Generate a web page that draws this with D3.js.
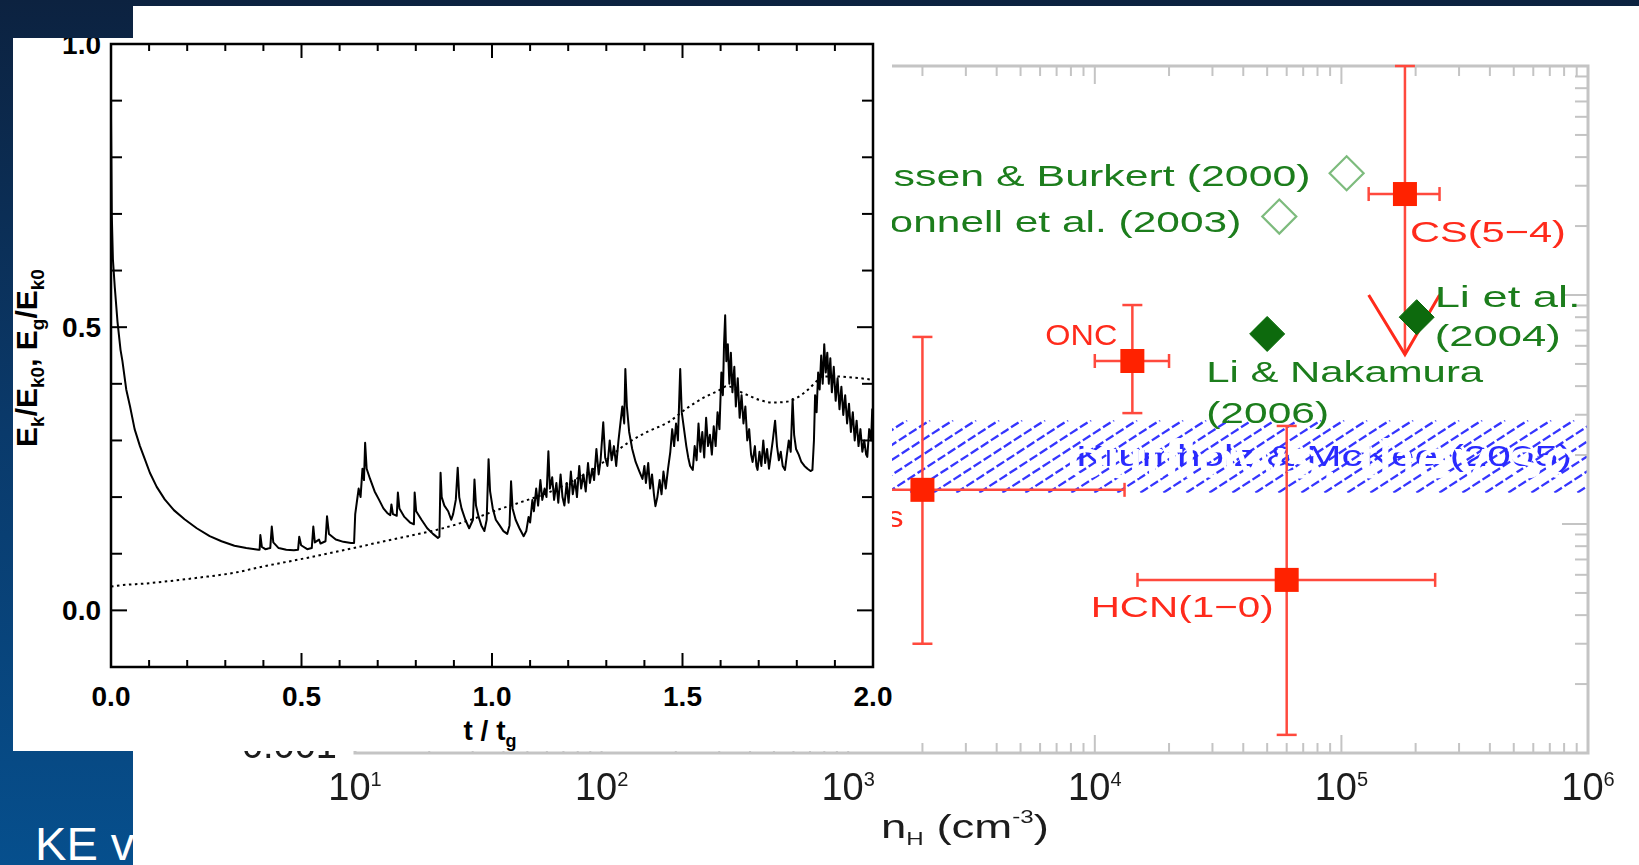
<!DOCTYPE html>
<html>
<head>
<meta charset="utf-8">
<script src="https://cdn.jsdelivr.net/npm/d3@7"></script>
<style>
  html, body { margin: 0; padding: 0; background: #fff; overflow: hidden; }
  text { font-family: "Liberation Sans", Arial, Helvetica, sans-serif; }
</style>
</head>
<body>
<svg id="slide" width="1639" height="865"></svg>
<script>
// ---------- Left panel: energy evolution (t / t_g) ----------
// Kinetic energy E_k / E_k0 : [t/t_g, value]
const kineticEnergy = [
  [0.000,0.870],[0.002,0.700],[0.005,0.620],[0.010,0.570],[0.017,0.510],[0.025,0.460],[0.030,0.440],
  [0.040,0.390],[0.050,0.360],[0.062,0.320],[0.076,0.290],[0.090,0.265],[0.102,0.243],[0.120,0.218],
  [0.141,0.196],[0.165,0.177],[0.193,0.161],[0.225,0.145],[0.259,0.131],[0.290,0.122],[0.324,0.114],
  [0.355,0.110],[0.387,0.107],[0.390,0.107],[0.392,0.133],[0.396,0.112],[0.405,0.108],[0.418,0.110],
  [0.422,0.148],[0.426,0.120],[0.440,0.110],[0.460,0.107],[0.480,0.106],[0.491,0.107],[0.494,0.130],
  [0.499,0.115],[0.515,0.108],[0.527,0.110],[0.531,0.148],[0.535,0.120],[0.546,0.125],[0.550,0.118],
  [0.563,0.122],[0.567,0.166],[0.572,0.135],[0.590,0.125],[0.610,0.121],[0.630,0.119],[0.638,0.119],
  [0.641,0.170],[0.645,0.190],[0.650,0.215],[0.655,0.200],[0.660,0.250],[0.664,0.230],[0.667,0.296],
  [0.671,0.250],[0.680,0.232],[0.692,0.210],[0.703,0.196],[0.715,0.180],[0.725,0.172],[0.733,0.168],
  [0.736,0.187],[0.740,0.170],[0.750,0.167],[0.753,0.208],[0.757,0.180],[0.770,0.165],[0.785,0.155],
  [0.795,0.152],[0.797,0.208],[0.801,0.175],[0.815,0.160],[0.830,0.145],[0.845,0.135],[0.858,0.128],
  [0.862,0.130],[0.865,0.243],[0.868,0.200],[0.875,0.185],[0.885,0.175],[0.893,0.160],[0.898,0.170],
  [0.905,0.195],[0.910,0.252],[0.914,0.200],[0.920,0.180],[0.930,0.160],[0.940,0.145],[0.950,0.160],
  [0.954,0.231],[0.958,0.185],[0.965,0.165],[0.972,0.150],[0.980,0.140],[0.986,0.160],[0.991,0.267],
  [0.995,0.210],[1.002,0.180],[1.010,0.160],[1.020,0.150],[1.030,0.140],[1.040,0.135],[1.046,0.150],
  [1.050,0.228],[1.054,0.180],[1.062,0.160],[1.072,0.145],[1.083,0.131],[1.090,0.140],[1.096,0.165],
  [1.100,0.155],[1.106,0.195],[1.110,0.175],[1.116,0.215],[1.121,0.185],[1.127,0.230],[1.132,0.195],
  [1.138,0.215],[1.143,0.200],[1.148,0.281],[1.152,0.215],[1.158,0.235],[1.163,0.195],[1.169,0.225],
  [1.174,0.190],[1.180,0.240],[1.185,0.200],[1.190,0.185],[1.196,0.225],[1.201,0.190],[1.207,0.245],
  [1.212,0.205],[1.218,0.230],[1.223,0.200],[1.229,0.255],[1.234,0.215],[1.240,0.240],[1.246,0.210],
  [1.252,0.260],[1.257,0.225],[1.263,0.250],[1.268,0.230],[1.274,0.285],[1.280,0.240],[1.285,0.265],
  [1.292,0.332],[1.297,0.270],[1.303,0.255],[1.309,0.300],[1.314,0.265],[1.320,0.290],[1.326,0.255],
  [1.332,0.300],[1.337,0.330],[1.342,0.360],[1.347,0.330],[1.350,0.426],[1.354,0.360],[1.360,0.315],
  [1.368,0.285],[1.377,0.262],[1.387,0.245],[1.395,0.232],[1.400,0.255],[1.404,0.225],[1.410,0.260],
  [1.415,0.215],[1.420,0.240],[1.425,0.205],[1.429,0.184],[1.434,0.200],[1.440,0.230],[1.445,0.205],
  [1.450,0.245],[1.456,0.215],[1.462,0.250],[1.468,0.280],[1.473,0.320],[1.478,0.290],[1.483,0.330],
  [1.488,0.300],[1.494,0.426],[1.498,0.350],[1.504,0.320],[1.510,0.290],[1.515,0.270],[1.520,0.255],
  [1.527,0.248],[1.532,0.290],[1.537,0.265],[1.542,0.330],[1.547,0.280],[1.552,0.315],[1.557,0.270],
  [1.562,0.340],[1.567,0.290],[1.572,0.310],[1.577,0.275],[1.582,0.325],[1.587,0.290],[1.592,0.350],
  [1.597,0.320],[1.602,0.420],[1.606,0.380],[1.609,0.470],[1.612,0.521],[1.615,0.440],[1.619,0.470],
  [1.623,0.400],[1.627,0.455],[1.631,0.385],[1.636,0.430],[1.640,0.360],[1.645,0.410],[1.650,0.340],
  [1.655,0.380],[1.660,0.330],[1.665,0.360],[1.670,0.300],[1.675,0.320],[1.680,0.275],[1.684,0.262],
  [1.690,0.290],[1.694,0.255],[1.697,0.248],[1.702,0.280],[1.707,0.255],[1.712,0.300],[1.717,0.260],
  [1.722,0.285],[1.727,0.250],[1.732,0.275],[1.737,0.300],[1.743,0.335],[1.748,0.290],[1.753,0.265],
  [1.758,0.280],[1.763,0.255],[1.769,0.248],[1.774,0.275],[1.779,0.300],[1.784,0.280],[1.789,0.373],
  [1.793,0.310],[1.798,0.285],[1.805,0.275],[1.812,0.262],[1.820,0.255],[1.828,0.250],[1.836,0.246],
  [1.841,0.248],[1.845,0.300],[1.848,0.380],[1.852,0.350],[1.856,0.420],[1.860,0.390],[1.864,0.450],
  [1.868,0.400],[1.872,0.470],[1.876,0.420],[1.880,0.455],[1.884,0.400],[1.888,0.445],[1.892,0.385],
  [1.897,0.430],[1.902,0.370],[1.907,0.410],[1.912,0.355],[1.917,0.395],[1.922,0.345],[1.927,0.380],
  [1.932,0.330],[1.937,0.365],[1.942,0.315],[1.947,0.350],[1.952,0.300],[1.957,0.335],[1.962,0.290],
  [1.967,0.320],[1.972,0.280],[1.977,0.300],[1.982,0.275],[1.985,0.271],[1.990,0.320],[1.995,0.300],
  [1.998,0.355],[2.000,0.340]
];

// Gravitational energy E_g / E_k0 : [t/t_g, value]
const gravEnergy = [
  [0.000,0.042],[0.010,0.043],[0.100,0.048],[0.233,0.058],[0.320,0.066],[0.403,0.078],[0.480,0.088],
  [0.559,0.099],[0.630,0.109],[0.703,0.120],[0.780,0.131],[0.860,0.143],[0.940,0.159],[1.017,0.178],
  [1.080,0.192],[1.148,0.208],[1.210,0.228],[1.279,0.255],[1.357,0.296],[1.410,0.316],[1.462,0.332],
  [1.514,0.358],[1.560,0.377],[1.592,0.387],[1.618,0.396],[1.645,0.388],[1.671,0.380],[1.700,0.372],
  [1.736,0.367],[1.770,0.368],[1.802,0.376],[1.830,0.390],[1.854,0.406],[1.867,0.413],[1.900,0.413],
  [1.932,0.412],[1.965,0.410],[2.000,0.407]
];

const leftXTicks = ["0.0", "0.5", "1.0", "1.5", "2.0"];
const leftYTicks = ["0.0", "0.5", "1.0"];

// ---------- Right panel: efficiency per free-fall time vs density ----------
const obsLabels   = ["GMCs", "ONC", "CS(5\u22124)", "HCN(1\u22120)"];
const obsDensity  = [2000, 1.42e4, 1.81e5, 6.0e4];
const obsDensLo   = [310, 1.0e4, 1.29e5, 1.49e4];
const obsDensHi   = [1.32e4, 2.0e4, 2.5e5, 2.4e5];
const obsEff      = [0.0141, 0.0515, 0.276, 0.0057];
const obsEffLo    = [0.0030, 0.0305, 0.055, 0.0012];
const obsEffHi    = [0.0656, 0.0904, 1.0, 0.0268];
const obsUpperLim = [false, false, true, false];
const arrowHeadBase = 0.1;   // where the upper-limit arrow head opens

const theoryLabels = [["Klessen & Burkert (2000)"], ["Bonnell et al. (2003)"], ["Li & Nakamura", "(2006)"], ["Li et al.", "(2004)"]];
const theoryDensity = [1.05e5, 5.6e4, 5.0e4, 2.02e5];
const theoryEff     = [0.34, 0.22, 0.0676, 0.080];
const theoryFilled  = [false, false, true, true];

const kmBand = [0.0137, 0.0284];         // Krumholz & McKee (2005) range
const kmLabel = "Krumholz & McKee (2005)";

const xDecades = [1, 2, 3, 4, 5, 6];
const yTickValues = [0.001, 0.01, 0.1, 1];
const yTickLabels = ["0.001", "0.010", "0.100", "1.000"];

// ---------- Layout ----------
const svg = d3.select("#slide");
const defs = svg.append("defs");

const grad = defs.append("linearGradient").attr("id", "bgGrad")
  .attr("x1", 0).attr("y1", 0).attr("x2", 0).attr("y2", 1);
grad.append("stop").attr("offset", "0%").attr("stop-color", "#0c2240");
grad.append("stop").attr("offset", "50%").attr("stop-color", "#0a3a6b");
grad.append("stop").attr("offset", "100%").attr("stop-color", "#064f8d");

defs.append("filter").attr("id", "soft")
  .append("feGaussianBlur").attr("stdDeviation", 0.55);

// slide background and title
svg.append("rect").attr("width", 1639).attr("height", 865).attr("fill", "url(#bgGrad)");
svg.append("text").attr("x", 35).attr("y", 860).attr("fill", "#fff")
  .attr("font-size", 46).attr("textLength", 136).attr("lengthAdjust", "spacingAndGlyphs").text("KE vs.");
svg.append("rect").attr("x", 133).attr("y", 6).attr("width", 1506).attr("height", 859).attr("fill", "#fff");

// ---------- Right chart ----------
const xR = d3.scaleLog().domain([10, 1e6]).range([355, 1588]);
const yR = d3.scaleLog().domain([1e-3, 1]).range([753, 66]);
const rc = svg.append("g").attr("filter", "url(#soft)");

// hatched theory band
const bandTop = yR(kmBand[1]), bandBot = yR(kmBand[0]);
defs.append("clipPath").attr("id", "bandClip").append("rect")
  .attr("x", xR.range()[0]).attr("y", bandTop)
  .attr("width", xR.range()[1] - xR.range()[0]).attr("height", bandBot - bandTop);
const slant = (bandBot - bandTop) / Math.tan(33 * Math.PI / 180);
rc.append("g").attr("clip-path", "url(#bandClip)")
  .selectAll("line").data(d3.range(xR.range()[0] - slant, xR.range()[1] + 10, 23)).join("line")
  .attr("x1", d => d).attr("y1", bandBot).attr("x2", d => d + slant).attr("y2", bandTop)
  .attr("stroke", "#3434ff").attr("stroke-width", 2.3).attr("stroke-dasharray", "9 3");
rc.append("text").attr("x", 1076).attr("y", 466).attr("fill", "#2a2aff")
  .attr("font-size", 30).attr("textLength", 496).attr("lengthAdjust", "spacingAndGlyphs").text(kmLabel);

// frame + ticks
const frameCol = "#c4c4c4";
rc.append("rect").attr("x", xR.range()[0]).attr("y", yR.range()[1])
  .attr("width", xR.range()[1] - xR.range()[0]).attr("height", yR.range()[0] - yR.range()[1])
  .attr("fill", "none").attr("stroke", frameCol).attr("stroke-width", 3);

const xMinor = [];
xDecades.slice(0, -1).forEach(e => d3.range(1, 10).forEach(m => xMinor.push({ v: m * Math.pow(10, e), major: m === 1 })));
xMinor.push({ v: 1e6, major: true });
const tk = rc.append("g").attr("stroke", frameCol).attr("stroke-width", 2);
xMinor.forEach(t => {
  const x = xR(t.v), len = t.major ? 18 : 10;
  tk.append("line").attr("x1", x).attr("x2", x).attr("y1", yR.range()[0]).attr("y2", yR.range()[0] - len);
  tk.append("line").attr("x1", x).attr("x2", x).attr("y1", yR.range()[1]).attr("y2", yR.range()[1] + len);
});
const yMinor = [];
[-3, -2, -1].forEach(e => d3.range(1, 10).forEach(m => yMinor.push({ v: m * Math.pow(10, e), major: m === 1 })));
yMinor.push({ v: 1, major: true });
yMinor.forEach(t => {
  const y = yR(t.v), len = t.major ? 26 : 13;
  tk.append("line").attr("x1", xR.range()[1]).attr("x2", xR.range()[1] - len).attr("y1", y).attr("y2", y);
  tk.append("line").attr("x1", xR.range()[0]).attr("x2", xR.range()[0] + len).attr("y1", y).attr("y2", y);
});

// axis labels
xDecades.forEach(e => {
  const t = rc.append("text").attr("x", xR(Math.pow(10, e))).attr("y", 800)
    .attr("text-anchor", "middle").attr("font-size", 38).attr("fill", "#1b1b1b");
  t.append("tspan").text("10");
  t.append("tspan").attr("font-size", 20).attr("dy", -14).text(e);
});
yTickValues.forEach((v, i) => {
  rc.append("text").attr("x", 337).attr("y", yR(v) + 5).attr("text-anchor", "end")
    .attr("font-size", 38).attr("fill", "#1b1b1b").text(yTickLabels[i]);
});
const nt = rc.append("g").attr("transform", "translate(881,838) scale(1.34,1)")
  .append("text").attr("font-size", 34).attr("fill", "#1b1b1b");
nt.append("tspan").text("n");
nt.append("tspan").attr("font-size", 18).attr("dy", 7).text("H");
nt.append("tspan").attr("dy", -7).text(" (cm");
nt.append("tspan").attr("font-size", 18).attr("dy", -15).text("-3");
nt.append("tspan").attr("dy", 15).text(")");

// observations: error bars + squares
const red = "#ff2a1a", redBar = "#ff4a3e";
const obsLayout = [
  { dx: -19, dy: 37, anchor: "end", len: 92 },
  { dx: -87, dy: -16, anchor: "start", len: 72 },
  { dx: 5, dy: 48, anchor: "start", len: 156 },
  { dx: -196, dy: 37, anchor: "start", len: 183 }
];
const eb = rc.append("g").attr("stroke", redBar).attr("stroke-width", 2.5).attr("fill", "none");
obsLabels.forEach((lab, i) => {
  const cx = xR(obsDensity[i]), cy = yR(obsEff[i]);
  const xl = xR(obsDensLo[i]), xh = xR(obsDensHi[i]);
  const yh = yR(obsEffHi[i]), yl = yR(obsEffLo[i]);
  eb.append("line").attr("x1", xl).attr("x2", xh).attr("y1", cy).attr("y2", cy);
  eb.append("line").attr("x1", xl).attr("x2", xl).attr("y1", cy - 7).attr("y2", cy + 7);
  eb.append("line").attr("x1", xh).attr("x2", xh).attr("y1", cy - 7).attr("y2", cy + 7);
  eb.append("line").attr("x1", cx).attr("x2", cx).attr("y1", yh).attr("y2", yl);
  eb.append("line").attr("x1", cx - 10).attr("x2", cx + 10).attr("y1", yh).attr("y2", yh);
  if (obsUpperLim[i]) {
    const yb = yR(arrowHeadBase);
    eb.append("polyline").attr("points", `${xl},${yb} ${cx},${yl} ${xh},${yb}`)
      .attr("stroke", red).attr("stroke-width", 3);
  } else {
    eb.append("line").attr("x1", cx - 10).attr("x2", cx + 10).attr("y1", yl).attr("y2", yl);
  }
  rc.append("rect").attr("x", cx - 12).attr("y", cy - 12).attr("width", 24).attr("height", 24).attr("fill", "#ff2200");
  const L = obsLayout[i];
  rc.append("text").attr("x", cx + L.dx).attr("y", cy + L.dy).attr("text-anchor", L.anchor)
    .attr("fill", red).attr("font-size", 30).attr("textLength", L.len)
    .attr("lengthAdjust", "spacingAndGlyphs").text(lab);
});

// theory points: diamonds + labels
const green = "#1b7d1b";
const theoryLayout = [
  { dx: -36, dys: [13], anchor: "end", lens: [479] },
  { dx: -38, dys: [15], anchor: "end", lens: [380] },
  { dx: -61, dys: [48, 89], anchor: "start", lens: [277, 123] },
  { dx: 18, dys: [-10, 29], anchor: "start", lens: [146, 126] }
];
theoryLabels.forEach((lines, i) => {
  const cx = xR(theoryDensity[i]), cy = yR(theoryEff[i]);
  const r = theoryFilled[i] ? 17.5 : 17;
  rc.append("path").attr("d", `M${cx},${cy - r} L${cx + r},${cy} L${cx},${cy + r} L${cx - r},${cy} Z`)
    .attr("fill", theoryFilled[i] ? "#086b08" : "none")
    .attr("stroke", theoryFilled[i] ? "#086b08" : "#7dbb7d")
    .attr("stroke-width", theoryFilled[i] ? 1 : 2.2);
  const L = theoryLayout[i];
  lines.forEach((s, j) => {
    rc.append("text").attr("x", cx + L.dx).attr("y", cy + L.dys[j]).attr("text-anchor", L.anchor)
      .attr("fill", green).attr("font-size", 30).attr("textLength", L.lens[j])
      .attr("lengthAdjust", "spacingAndGlyphs").text(s);
  });
});

// slide bullet text (white) running over the figure
svg.append("text").attr("x", 1067).attr("y", 478).attr("fill", "#fff")
  .attr("font-size", 56).attr("textLength", 510).attr("lengthAdjust", "spacingAndGlyphs")
  .text("outflows, they sc");

// ---------- Left chart (on its own white panel) ----------
defs.append("clipPath").attr("id", "panelClip").append("rect")
  .attr("x", 13).attr("y", 38).attr("width", 879).attr("height", 713);
const lp = svg.append("g").attr("clip-path", "url(#panelClip)");
lp.append("rect").attr("x", 13).attr("y", 38).attr("width", 879).attr("height", 713).attr("fill", "#fff");

const xL = d3.scaleLinear().domain([0, 2]).range([111, 873]);
const yL = d3.scaleLinear().domain([-0.1, 1.0]).range([667, 44]);

const lt = lp.append("g").attr("stroke", "#000").attr("stroke-width", 2);
d3.range(0, 21).forEach(k => {
  const v = k / 10, x = xL(v), len = (k % 5 === 0) ? 14 : 7;
  lt.append("line").attr("x1", x).attr("x2", x).attr("y1", yL.range()[0]).attr("y2", yL.range()[0] - len);
  lt.append("line").attr("x1", x).attr("x2", x).attr("y1", yL.range()[1]).attr("y2", yL.range()[1] + len);
});
d3.range(-1, 11).forEach(k => {
  const v = k / 10, y = yL(v), len = (k % 5 === 0) ? 16 : 11;
  lt.append("line").attr("x1", xL.range()[0]).attr("x2", xL.range()[0] + len).attr("y1", y).attr("y2", y);
  lt.append("line").attr("x1", xL.range()[1]).attr("x2", xL.range()[1] - len).attr("y1", y).attr("y2", y);
});

const lineGen = d3.line().x(d => xL(d[0])).y(d => yL(d[1]));
lp.append("path").datum(gravEnergy).attr("d", lineGen.curve(d3.curveMonotoneX))
  .attr("fill", "none").attr("stroke", "#000").attr("stroke-width", 2).attr("stroke-dasharray", "2.5 3.5");
lp.append("path").datum(kineticEnergy).attr("d", d3.line().x(d => xL(d[0])).y(d => yL(d[1])))
  .attr("fill", "none").attr("stroke", "#000").attr("stroke-width", 2).attr("stroke-linejoin", "round");

lp.append("rect").attr("x", xL.range()[0]).attr("y", yL.range()[1])
  .attr("width", xL.range()[1] - xL.range()[0]).attr("height", yL.range()[0] - yL.range()[1])
  .attr("fill", "none").attr("stroke", "#000").attr("stroke-width", 2.5);

leftXTicks.forEach(s => {
  lp.append("text").attr("x", xL(+s)).attr("y", 706).attr("text-anchor", "middle")
    .attr("font-size", 28).attr("font-weight", "bold").attr("fill", "#000").text(s);
});
leftYTicks.forEach(s => {
  lp.append("text").attr("x", 101).attr("y", yL(+s) + 10).attr("text-anchor", "end")
    .attr("font-size", 28).attr("font-weight", "bold").attr("fill", "#000").text(s);
});
const xt = lp.append("text").attr("x", 490).attr("y", 740).attr("text-anchor", "middle")
  .attr("font-size", 28).attr("font-weight", "bold");
xt.append("tspan").text("t / t");
xt.append("tspan").attr("font-size", 18).attr("dy", 7).text("g");

const yt = lp.append("text").attr("transform", "translate(37,358) rotate(-90)")
  .attr("text-anchor", "middle").attr("font-size", 30).attr("font-weight", "bold");
[["E", 0], ["k", 1], ["/E", 0], ["k0", 1], [", E", 0], ["g", 1], ["/E", 0], ["k0", 1]].forEach(([s, sub], i, arr) => {
  const prevSub = i > 0 ? arr[i - 1][1] : 0;
  const ts = yt.append("tspan").text(s);
  if (sub) ts.attr("font-size", 19).attr("dy", 7);
  else if (prevSub) ts.attr("dy", -7);
});
</script>
</body>
</html>
